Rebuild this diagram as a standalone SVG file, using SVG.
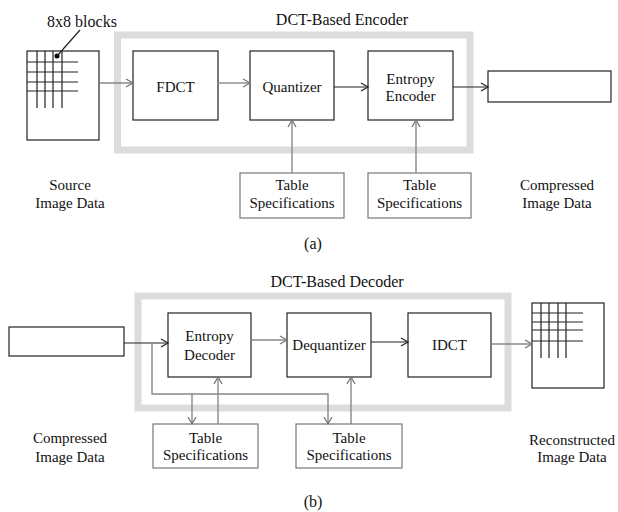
<svg xmlns="http://www.w3.org/2000/svg" width="618" height="512" viewBox="0 0 618 512">
<style>
text{font-family:'Liberation Serif','Times New Roman','DejaVu Serif',serif;font-size:15px;fill:#111;text-anchor:middle}
.t{font-size:16px}
.box{fill:#fff;stroke:#222;stroke-width:1.2}
.gbox{fill:#fff;stroke:#777;stroke-width:1.2}
.frame{fill:none;stroke:#dcdcdc;stroke-width:7}
.grid{stroke:#222;stroke-width:1.2;fill:none}
.k{stroke:#222;stroke-width:1.2;fill:none}
.g{stroke:#888;stroke-width:1.4;fill:none}
</style>
<defs>
<marker id="ak" markerWidth="10" markerHeight="10" refX="8" refY="5" orient="auto" markerUnits="userSpaceOnUse"><path d="M1,1 L8,5 L1,9" fill="none" stroke="#222" stroke-width="1.2"/></marker>
<marker id="ag" markerWidth="10" markerHeight="10" refX="8" refY="5" orient="auto" markerUnits="userSpaceOnUse"><path d="M1,1 L8,5 L1,9" fill="none" stroke="#777" stroke-width="1.3"/></marker>
</defs>

<!-- Encoder -->
<rect class="frame" x="117.5" y="35" width="352.5" height="115"/>
<text class="t" x="342" y="25">DCT-Based Encoder</text>
<text class="t" x="82" y="27">8x8 blocks</text>

<g id="source">
<rect class="box" x="27" y="51" width="72" height="89"/>
<path class="grid" d="M37,51V108M45,51V108M53,51V108M62,51V108M27,62H78M27,72H78M27,82H78M27,91H78"/>
<circle cx="57" cy="56" r="2.5" fill="#000"/>
<line class="k" x1="57" y1="56" x2="80" y2="30"/>
<text x="70" y="190">Source</text>
<text x="70" y="208">Image Data</text>
</g>
<g id="fdct"><rect class="box" x="133" y="51" width="85" height="69"/><text x="175.5" y="92">FDCT</text></g>
<g id="quantizer"><rect class="box" x="250" y="51" width="84" height="69"/><text x="292" y="92">Quantizer</text></g>
<g id="entropyEncoder"><rect class="box" x="368" y="51" width="85" height="69"/><text x="410.5" y="84">Entropy</text><text x="410.5" y="101">Encoder</text></g>
<g id="compressedOut"><rect class="box" x="488" y="71" width="123" height="31"/><text x="557" y="190">Compressed</text><text x="557" y="208">Image Data</text></g>
<g id="tableA1"><rect class="gbox" x="240" y="173" width="104" height="45"/><text x="292" y="190">Table</text><text x="292" y="208">Specifications</text></g>
<g id="tableA2"><rect class="gbox" x="368" y="173" width="103" height="45"/><text x="419.5" y="190">Table</text><text x="419.5" y="208">Specifications</text></g>
<text class="t" x="313" y="249">(a)</text>

<!-- Decoder -->
<rect class="frame" x="138" y="296" width="370" height="112"/>
<text class="t" x="337" y="287">DCT-Based Decoder</text>
<g id="compressedIn"><rect class="box" x="9" y="327" width="115" height="29"/><text x="70" y="443">Compressed</text><text x="70" y="462">Image Data</text></g>
<g id="entropyDecoder"><rect class="box" x="168" y="313" width="83" height="64"/><text x="209.5" y="341">Entropy</text><text x="209.5" y="360">Decoder</text></g>
<g id="dequantizer"><rect class="box" x="287" y="313" width="84" height="64"/><text x="329" y="350">Dequantizer</text></g>
<g id="idct"><rect class="box" x="408" y="313" width="83" height="64"/><text x="449.5" y="350">IDCT</text></g>
<g id="reconstructed">
<rect class="box" x="532" y="303" width="72" height="85"/>
<path class="grid" d="M541,303V358M549,303V358M558,303V358M566,303V358M532,313H583M532,322H583M532,330H583M532,341H583"/>
<text x="572" y="445">Reconstructed</text>
<text x="572" y="462">Image Data</text>
</g>
<g id="tableB1"><rect class="gbox" x="153" y="424" width="105" height="44"/><text x="205.5" y="443">Table</text><text x="205.5" y="460">Specifications</text></g>
<g id="tableB2"><rect class="gbox" x="296" y="424" width="106" height="44"/><text x="349" y="443">Table</text><text x="349" y="460">Specifications</text></g>
<text class="t" x="313" y="507">(b)</text>

<g id="connectors">
<line class="g" x1="99" y1="83" x2="133" y2="83" marker-end="url(#ag)"/>
<line class="g" x1="218" y1="83" x2="250" y2="83" marker-end="url(#ag)"/>
<line class="k" x1="334" y1="87" x2="368" y2="87" marker-end="url(#ak)"/>
<line class="k" x1="453" y1="87" x2="488" y2="87" marker-end="url(#ak)"/>
<line class="g" x1="292" y1="173" x2="292" y2="120" marker-end="url(#ag)"/>
<line class="g" x1="416" y1="173" x2="416" y2="120" marker-end="url(#ag)"/>

<line class="k" x1="124" y1="343" x2="168" y2="343" marker-end="url(#ak)"/>
<line class="g" x1="251" y1="340" x2="287" y2="340" marker-end="url(#ag)"/>
<line class="k" x1="371" y1="342" x2="408" y2="342" marker-end="url(#ak)"/>
<line class="g" x1="491" y1="344" x2="532" y2="344" marker-end="url(#ag)"/>
<polyline class="g" points="152,343 152,394 328,394 328,424" marker-end="url(#ag)"/>
<line class="g" x1="192" y1="394" x2="192" y2="424" marker-end="url(#ag)"/>
<line class="g" x1="218" y1="424" x2="218" y2="377" marker-end="url(#ag)"/>
<line class="g" x1="351" y1="424" x2="351" y2="377" marker-end="url(#ag)"/>
</g>
</svg>
